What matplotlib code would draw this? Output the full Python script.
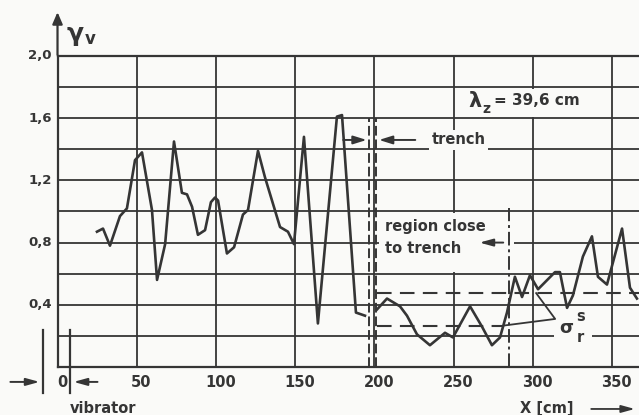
import numpy as np
import matplotlib.pyplot as plt
from matplotlib.patches import Rectangle

plt.rcParams['font.family'] = ['DejaVu Sans']
plt.rcParams['font.weight'] = 'bold'

# measured gamma_v along the line, vibrator side of the trench
x_front = [24.9, 28.7, 33.1, 39.4, 43.8, 48.9, 53.3, 59.6, 62.8, 67.9, 73.5, 78.5,
           81.7, 84.9, 88.6, 93.1, 96.8, 99.4, 101.3, 106.9, 111.4, 117.0, 120.2,
           126.5, 130.9, 140.4, 145.4, 149.2, 155.5, 164.3, 176.3, 179.5, 188.3, 194.0]
y_front = [0.87, 0.89, 0.78, 0.97, 1.02, 1.33, 1.38, 1.01, 0.56, 0.79, 1.45, 1.12,
           1.11, 1.03, 0.85, 0.88, 1.06, 1.09, 1.07, 0.73, 0.77, 0.98, 1.01,
           1.39, 1.22, 0.90, 0.87, 0.79, 1.48, 0.28, 1.61, 1.62, 0.35, 0.33]

# behind the trench
x_back = [201.6, 207.9, 216.1, 220.5, 226.8, 235.0, 244.5, 249.5, 260.3, 267.8,
          274.1, 279.2, 283.6, 288.6, 293.1, 298.1, 303.2, 313.9, 317.0, 321.5,
          325.2, 331.5, 337.2, 341.0, 346.7, 356.2, 361.2, 365.6]
y_back = [0.37, 0.44, 0.39, 0.33, 0.21, 0.14, 0.22, 0.19, 0.39, 0.26,
          0.14, 0.19, 0.35, 0.58, 0.45, 0.59, 0.50, 0.61, 0.61, 0.38,
          0.46, 0.71, 0.84, 0.58, 0.53, 0.89, 0.51, 0.44]

x_ticks = [0, 50, 100, 150, 200, 250, 300, 350]
x_labels = ['0', '50', '100', '150', '200', '250', '300', '350']
y_ticks = [0.4, 0.8, 1.2, 1.6, 2.0]
y_labels = ['0,4', '0,8', '1,2', '1,6', '2,0']

trench_edges = [196.8, 201.1]
region_end = 285.0
sigma_high = 0.475
sigma_low = 0.264

bg = '#fafaf8'
ink = '#353535'

fig = plt.figure(figsize=(6.39, 4.15), dpi=100, facecolor=bg)
ax = fig.add_axes([0.09, 0.1157, 0.91, 0.7494], facecolor=bg)
ax.set_xlim(0, 366.9)
ax.set_ylim(0, 2.0)

# grid
ax.set_xticks(np.arange(0, 366, 50))
ax.set_yticks(np.arange(0, 2.01, 0.2))
ax.grid(True, color=ink, lw=1.3)
ax.tick_params(length=0, labelbottom=False, labelleft=False)
for s in ['left', 'bottom', 'top']:
    ax.spines[s].set_color(ink)
    ax.spines[s].set_linewidth(1.6)
ax.spines['right'].set_visible(False)
ax.set_axisbelow(True)

# tick labels
for xv, lab in zip(x_ticks, x_labels):
    ax.text(xv + 2.8, -0.1, lab, ha='center', va='center', fontsize=10.5,
            color=ink, clip_on=False)
for yv, lab in zip(y_ticks, y_labels):
    ax.text(-3.5, yv, lab, ha='right', va='center', fontsize=9.5,
            color=ink, clip_on=False)

# y axis arrow and label
ax.annotate('', xy=(0, 2.3), xytext=(0, 1.99), annotation_clip=False,
            arrowprops=dict(arrowstyle='-|>,head_length=0.7,head_width=0.3',
                            color=ink, lw=1.6))
ax.text(5.5, 2.14, 'γ', fontsize=18, color=ink, ha='left', va='center',
        clip_on=False)
ax.text(17, 2.11, 'v', fontsize=12, color=ink, ha='left', va='center',
        clip_on=False)

# curve
ax.plot(x_front, y_front, color=ink, lw=1.9, zorder=4)
ax.plot(x_back, y_back, color=ink, lw=1.9, zorder=4)

# trench walls
for xe in trench_edges:
    ax.plot([xe, xe], [0, 1.6], color=ink, lw=1.4, dashes=(5, 2), zorder=5)
ax.annotate('', xy=(trench_edges[0], 1.46), xytext=(178.5, 1.46),
            arrowprops=dict(arrowstyle='-|>,head_length=0.8,head_width=0.25',
                            color=ink, lw=1.4))
ax.annotate('', xy=(trench_edges[1], 1.46), xytext=(227.5, 1.46),
            arrowprops=dict(arrowstyle='-|>,head_length=0.8,head_width=0.25',
                            color=ink, lw=1.4))
ax.text(253, 1.46, 'trench', fontsize=10.5, ha='center', va='center', color=ink,
        zorder=3, bbox=dict(facecolor=bg, edgecolor='none', pad=2))

ax.add_patch(Rectangle((257, 1.61), 88, 0.18, facecolor=bg, edgecolor='none', zorder=2.5))
ax.text(259.5, 1.71, 'λ', fontsize=15, ha='left', va='center', color=ink, zorder=3)
ax.text(268, 1.66, 'z', fontsize=10, ha='left', va='center', color=ink, zorder=3)
ax.text(275.5, 1.715, '= 39,6 cm', fontsize=11, ha='left', va='center', color=ink,
        zorder=3)

# region close to trench
ax.add_patch(Rectangle((203, 0.61), 85, 0.38, facecolor=bg, edgecolor='none', zorder=2.5))
ax.plot([region_end, region_end], [0, 1.02], color=ink, lw=1.4,
        dashes=(7, 2, 1.5, 2), zorder=5)
ax.text(206.5, 0.905, 'region close', fontsize=10.5, ha='left', va='center',
        color=ink, zorder=3)
ax.text(206.5, 0.76, 'to trench', fontsize=10.5, ha='left', va='center',
        color=ink, zorder=3)
ax.annotate('', xy=(264.5, 0.8), xytext=(283, 0.8), zorder=5,
            arrowprops=dict(arrowstyle='-|>,head_length=0.8,head_width=0.22',
                            color=ink, lw=1.4))

# sigma band
ax.plot([201.5, 366.9], [sigma_high, sigma_high], color=ink, lw=1.5,
        dashes=(7, 4), zorder=3)
ax.plot([201.5, 282], [sigma_low, sigma_low], color=ink, lw=1.5,
        dashes=(7, 4), zorder=3)
ax.plot([302, 314, 282], [sigma_high, 0.309, sigma_low + 0.003], color=ink,
        lw=1.3, zorder=3)
ax.add_patch(Rectangle((313, 0.185), 24, 0.03, facecolor=bg, edgecolor='none', zorder=2.5))
ax.text(320.8, 0.25, 'σ', fontsize=13, ha='center', va='center', color=ink, zorder=3)
ax.text(330, 0.325, 's', fontsize=10.5, ha='center', va='center', color=ink, zorder=3)
ax.text(330, 0.19, 'r', fontsize=10.5, ha='center', va='center', color=ink, zorder=3)

# vibrator marker
for xv in [-9.1, 7.9]:
    ax.plot([xv, xv], [-0.167, 0.24], color=ink, lw=1.6, clip_on=False)
ax.annotate('', xy=(-9.6, -0.096), xytext=(-31.5, -0.096), annotation_clip=False,
            arrowprops=dict(arrowstyle='-|>,head_length=0.8,head_width=0.22',
                            color=ink, lw=1.4))
ax.annotate('', xy=(8.4, -0.096), xytext=(27, -0.096), annotation_clip=False,
            arrowprops=dict(arrowstyle='-|>,head_length=0.8,head_width=0.22',
                            color=ink, lw=1.4))
ax.text(28.7, -0.265, 'vibrator', fontsize=10.5, ha='center', va='center',
        color=ink, clip_on=False)

# x axis label
ax.text(309, -0.27, 'X [cm]', fontsize=10.5, ha='center', va='center',
        color=ink, clip_on=False)
ax.annotate('', xy=(366, -0.27), xytext=(335, -0.27), annotation_clip=False,
            arrowprops=dict(arrowstyle='-|>,head_length=0.8,head_width=0.22',
                            color=ink, lw=1.3))

fig.savefig('out.png', dpi=100, facecolor=bg)
